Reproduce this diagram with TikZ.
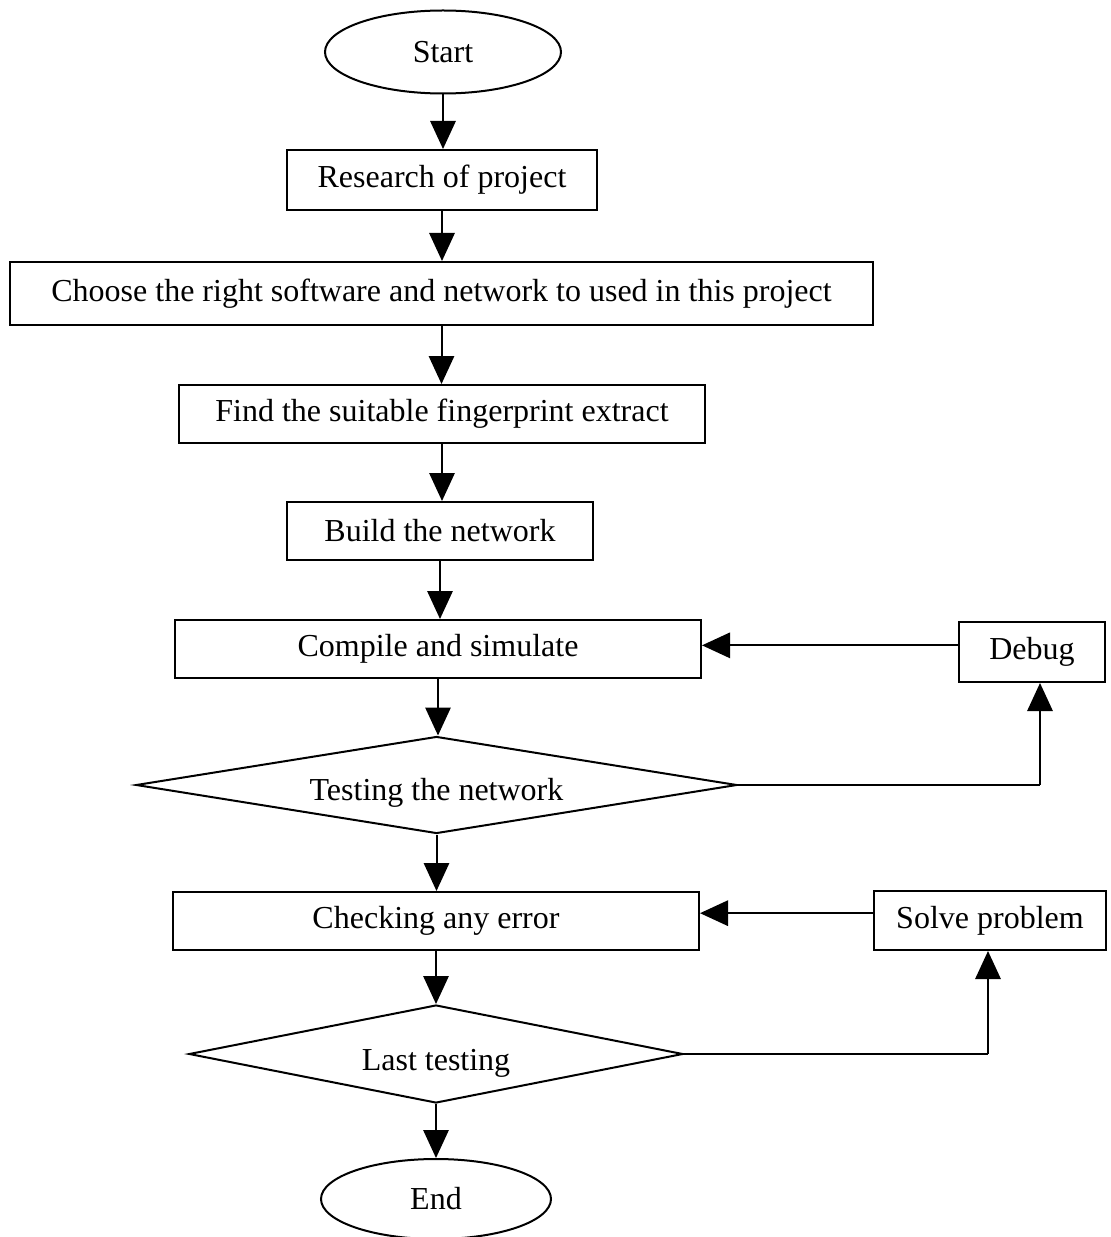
\documentclass[tikz,border=0pt]{standalone}
\usepackage{fontspec}
\setmainfont{Liberation Serif}
\usetikzlibrary{shapes.geometric,arrows.meta}
\begin{document}
\begin{tikzpicture}[x=0.75pt,y=-0.75pt,
  every node/.style={font=\fontsize{24}{28}\selectfont, line width=1.5pt, inner sep=0pt},
  boxnode/.style={draw, rectangle},
  ovalnode/.style={draw, ellipse},
  decnode/.style={draw, diamond, aspect=6, text depth=0pt},
  arr/.style={line width=1.5pt, -{Triangle[length=21pt,width=19pt]}},
  ln/.style={line width=1.5pt}]
\useasboundingbox (0,0) rectangle (1110,1237);
\node[ovalnode, minimum width=177pt, minimum height=62.25pt] (start) at (443,52) {Start};
\node[boxnode, minimum width=232.5pt, minimum height=45pt] (research) at (442,180) {Research of project};
\node[boxnode, minimum width=647.25pt, minimum height=47.25pt] (choose) at (441.5,293.5) {Choose the right software and network to used in this project};
\node[boxnode, minimum width=394.5pt, minimum height=43.5pt] (find) at (442,414) {Find the suitable fingerprint extract};
\node[boxnode, minimum width=229.5pt, minimum height=43.5pt] (build) at (440,531) {Build the network};
\node[boxnode, minimum width=394.5pt, minimum height=43.5pt] (compile) at (438,649) {Compile and simulate};
\node[boxnode, minimum width=109.5pt, minimum height=45pt] (debug) at (1032,652) {Debug};
\node[decnode, text height=22.5pt, minimum width=450.75pt, minimum height=72.75pt] (test) at (436.5,785) {Testing the network};
\node[boxnode, minimum width=394.5pt, minimum height=43.5pt] (check) at (436,921) {Checking any error};
\node[boxnode, minimum width=174pt, minimum height=44.25pt] (solve) at (990,920.5) {Solve problem};
\node[decnode, text height=24pt, minimum width=370.5pt, minimum height=73.5pt] (last) at (436,1054) {Last testing};
\node[ovalnode, minimum width=172.5pt, minimum height=60pt] (end) at (436,1199) {End};

\draw[arr] (start.south) -- (start.south |- research.north);
\draw[arr] (research.south) -- (research.south |- choose.north);
\draw[arr] (choose.south) -- (choose.south |- find.north);
\draw[arr] (find.south) -- (find.south |- build.north);
\draw[arr] (build.south) -- (build.south |- compile.north);
\draw[arr] (compile.south) -- (compile.south |- test.north);
\draw[arr] (test.south) -- (test.south |- check.north);
\draw[arr] (check.south) -- (check.south |- last.north);
\draw[arr] (last.south) -- (last.south |- end.north);

\coordinate (dbin) at ([yshift=5pt]debug.west);
\draw[arr] (dbin) -- (dbin -| compile.east);
\coordinate (dbup) at ([xshift=6pt]debug.south);
\draw[ln] (test.east) -- (test.east -| dbup);
\draw[arr] (test.east -| dbup) -- (dbup);

\coordinate (svin) at ([yshift=5.5pt]solve.west);
\draw[arr] (svin) -- (svin -| check.east);
\coordinate (svup) at ([xshift=-1.5pt]solve.south);
\draw[ln] (last.east) -- (last.east -| svup);
\draw[arr] (last.east -| svup) -- (svup);
\end{tikzpicture}
\end{document}
